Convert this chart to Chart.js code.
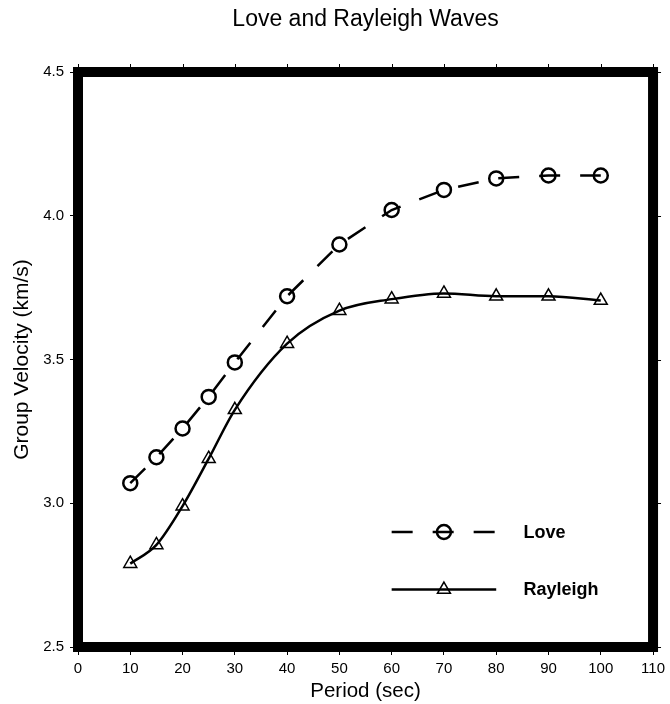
<!DOCTYPE html>
<html>
<head>
<meta charset="utf-8">
<script src="https://cdn.jsdelivr.net/npm/chart.js@4/dist/chart.umd.min.js"></script>
<style>
  html, body { margin: 0; padding: 0; background: #fff; }
  #wrap { width: 670px; height: 704px; }
</style>
</head>
<body>
<div id="wrap"><canvas id="c" width="670" height="704"></canvas></div>
<script>
/* ── data ── */
const PERIOD   = [10, 15, 20, 25, 30, 40, 50, 60, 70, 80, 90, 100];
const LOVE     = [3.07, 3.16, 3.26, 3.37, 3.49, 3.72, 3.90, 4.02, 4.09, 4.13, 4.14, 4.14];
const RAYLEIGH = [2.79, 2.855, 2.99, 3.155, 3.325, 3.555, 3.67, 3.71, 3.73, 3.72, 3.72, 3.705];
const X_TICKS  = [0, 10, 20, 30, 40, 50, 60, 70, 80, 90, 100, 110];
const Y_TICKS  = [2.5, 3.0, 3.5, 4.0, 4.5];

const FONT = "'Liberation Sans', Arial, Helvetica, sans-serif";
const DASH = [21, 20];

const pts = ys => PERIOD.map((x, i) => ({ x, y: ys[i] }));

/* frame, top/right ticks, title, legend */
const gmtFrame = {
  id: 'gmtFrame',
  afterDraw(chart) {
    const { ctx, chartArea: a, scales: { x, y } } = chart;
    ctx.save();

    // thick frame
    ctx.strokeStyle = '#000';
    ctx.lineWidth = 10;
    ctx.lineJoin = 'miter';
    ctx.strokeRect(a.left, a.top, a.right - a.left, a.bottom - a.top);

    // ticks on top and right sides
    ctx.lineWidth = 1;
    ctx.beginPath();
    X_TICKS.forEach(v => {
      const px = Math.round(x.getPixelForValue(v)) + 0.5;
      ctx.moveTo(px, a.top); ctx.lineTo(px, a.top - 8);
    });
    Y_TICKS.forEach(v => {
      const py = Math.round(y.getPixelForValue(v)) + 0.5;
      ctx.moveTo(a.right, py); ctx.lineTo(a.right + 8, py);
    });
    ctx.stroke();

    // title
    ctx.fillStyle = '#000';
    ctx.font = '23px ' + FONT;
    ctx.textAlign = 'center';
    ctx.textBaseline = 'middle';
    ctx.fillText('Love and Rayleigh Waves', (a.left + a.right) / 2, 20);

    // legend (placed in data units)
    const entries = [
      { label: 'Love',     yv: 2.9, dash: DASH, style: 'circle',   r: 7,   bw: 2.5 },
      { label: 'Rayleigh', yv: 2.7, dash: [],   style: 'triangle', r: 7.5, bw: 1.5 },
    ];
    entries.forEach(e => {
      const py = y.getPixelForValue(e.yv);
      const x0 = x.getPixelForValue(60), x1 = x.getPixelForValue(80);
      ctx.setLineDash(e.dash);
      ctx.lineWidth = 2.5;
      ctx.beginPath(); ctx.moveTo(x0, py); ctx.lineTo(x1, py); ctx.stroke();
      ctx.setLineDash([]);
      ctx.lineWidth = e.bw;
      ctx.fillStyle = 'rgba(0,0,0,0)';
      Chart.helpers.drawPoint(ctx, { pointStyle: e.style, radius: e.r, rotation: 0, borderWidth: e.bw },
        x.getPixelForValue(70), py);
      ctx.fillStyle = '#000';
      ctx.font = 'bold 18px ' + FONT;
      ctx.textAlign = 'left';
      ctx.textBaseline = 'middle';
      ctx.fillText(e.label, x.getPixelForValue(85.2), py + 1);
    });
    ctx.restore();
  }
};

Chart.defaults.font.family = FONT;
Chart.defaults.color = '#000';

new Chart(document.getElementById('c'), {
  type: 'line',
  data: {
    datasets: [
      {
        label: 'Love',
        data: pts(LOVE),
        borderColor: '#000',
        borderWidth: 2.5,
        borderDash: DASH,
        tension: 0,
        pointStyle: 'circle',
        pointRadius: 7,
        pointBorderWidth: 2.5,
        pointBorderColor: '#000',
        pointBackgroundColor: 'rgba(0,0,0,0)',
      },
      {
        label: 'Rayleigh',
        data: pts(RAYLEIGH),
        borderColor: '#000',
        borderWidth: 2.5,
        cubicInterpolationMode: 'monotone',
        pointStyle: 'triangle',
        pointRadius: 7.5,
        pointBorderWidth: 1.5,
        pointBorderColor: '#000',
        pointBackgroundColor: 'rgba(0,0,0,0)',
      }
    ]
  },
  options: {
    responsive: false,
    animation: false,
    events: [],
    layout: { padding: { top: 72, right: 16, left: 0, bottom: 0 } },
    plugins: { legend: { display: false }, tooltip: { enabled: false } },
    scales: {
      x: {
        type: 'linear', min: 0, max: 110,
        afterFit: s => { s.height = 57; },
        afterBuildTicks: s => { s.ticks = X_TICKS.map(v => ({ value: v })); },
        grid: { drawOnChartArea: false, tickLength: 8, color: '#000', lineWidth: 1 },
        border: { display: false },
        ticks: { font: { size: 15 }, padding: 5, maxRotation: 0 },
        title: { display: true, text: 'Period (sec)', font: { size: 20.5 }, padding: { top: 0, bottom: 0 } }
      },
      y: {
        type: 'linear', min: 2.5, max: 4.5,
        afterFit: s => { s.width = 78; },
        afterBuildTicks: s => { s.ticks = Y_TICKS.map(v => ({ value: v })); },
        grid: { drawOnChartArea: false, tickLength: 8, color: '#000', lineWidth: 1 },
        border: { display: false },
        ticks: { font: { size: 15 }, padding: 6, callback: v => Number(v).toFixed(1) },
        title: { display: true, text: 'Group Velocity (km/s)', font: { size: 21 }, padding: { top: 10, bottom: 0 } }
      }
    }
  },
  plugins: [gmtFrame]
});
</script>
</body>
</html>
